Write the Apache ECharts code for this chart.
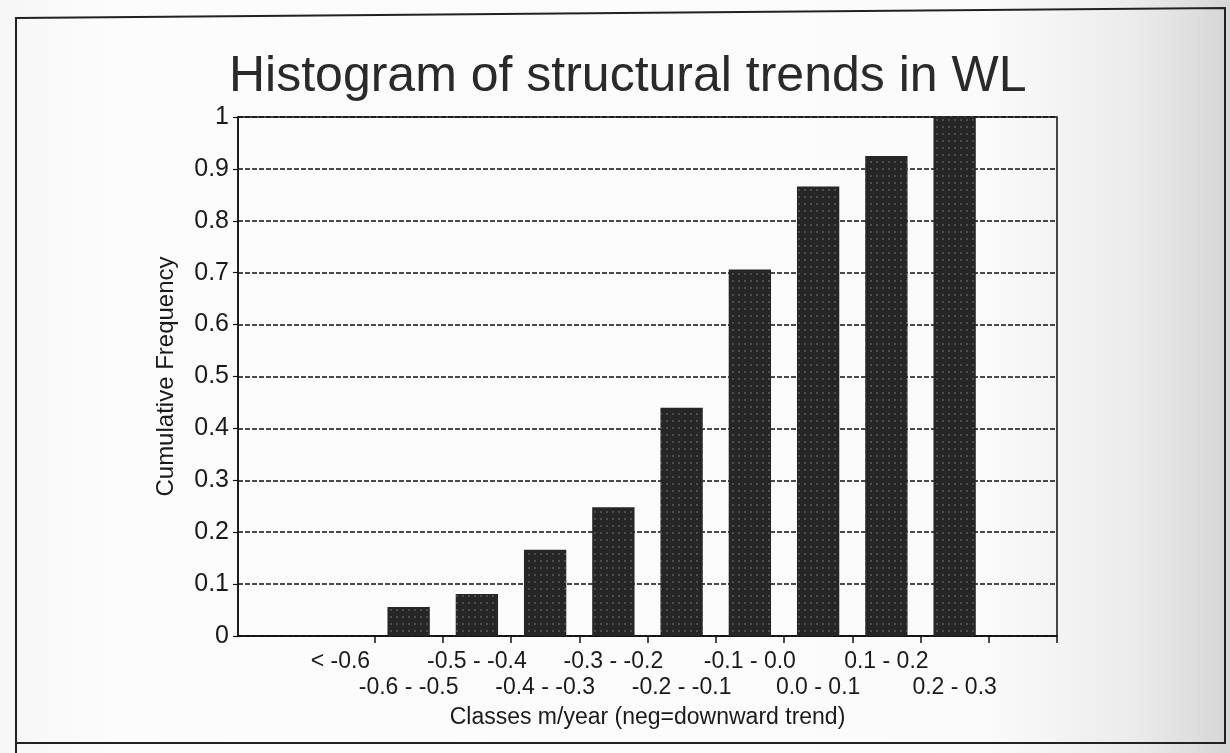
<!DOCTYPE html>
<html>
<head>
<meta charset="utf-8">
<script src="https://cdn.jsdelivr.net/npm/echarts@6/dist/echarts.min.js"></script>
<style>
html,body{margin:0;padding:0;background:#fff;}
#chart{width:1230px;height:753px;}
</style>
</head>
<body>
<div id="chart"></div>
<script>
// Categories (empty slots at both ends as in the original axis)
const categories = ["", "< -0.6", "-0.6 - -0.5", "-0.5 - -0.4", "-0.4 - -0.3", "-0.3 - -0.2",
  "-0.2 - -0.1", "-0.1 - 0.0", "0.0 - 0.1", "0.1 - 0.2", "0.2 - 0.3", ""];
const cumulativeFrequency = [null, 0, 0.056, 0.081, 0.166, 0.248, 0.44, 0.706, 0.866, 0.925, 1.0, null];
const yTicks = [0, 0.1, 0.2, 0.3, 0.4, 0.5, 0.6, 0.7, 0.8, 0.9, 1];

const FONT = '"Liberation Sans", Arial, Helvetica, sans-serif';
const chart = echarts.init(document.getElementById('chart'));
chart.setOption({
  animation: false,
  backgroundColor: {
    type: 'linear', x: 0, y: 0, x2: 1, y2: 0,
    colorStops: [
      {offset: 0, color: '#f7f7f7'},
      {offset: 0.1, color: '#fcfcfc'},
      {offset: 0.8, color: '#fbfbfb'},
      {offset: 0.92, color: '#ececec'},
      {offset: 1, color: '#d6d6d6'}
    ]
  },
  graphic: [{
    type: 'polyline',
    shape: {points: [[16, 760], [16, 18], [1225, 8], [1225, 743], [16, 743]]},
    style: {stroke: '#222', lineWidth: 2, fill: null}
  }],
  title: {
    text: 'Histogram of structural trends in WL',
    left: 224,
    top: 47,
    textStyle: {fontFamily: FONT, fontSize: 50, fontWeight: 'normal', color: '#2a2a2a'}
  },
  grid: {
    left: 238, right: 173, top: 117, bottom: 117,
    show: true, borderColor: '#111', borderWidth: 1.5, backgroundColor: 'transparent'
  },
  xAxis: {
    type: 'category',
    data: categories,
    boundaryGap: true,
    name: 'Classes m/year (neg=downward trend)',
    nameLocation: 'middle',
    nameGap: 68,
    nameTextStyle: {fontFamily: FONT, fontSize: 23, color: '#1a1a1a'},
    axisLine: {lineStyle: {color: '#111', width: 1.5}},
    axisTick: {show: true, length: 7, interval: (i) => i >= 2, lineStyle: {color: '#111', width: 1.5}},
    axisLabel: {
      interval: 0,
      fontFamily: FONT, fontSize: 23, color: '#1a1a1a',
      lineHeight: 26, margin: 13,
      formatter: (v, i) => (i % 2 === 1 ? v : '\n' + v)
    },
    splitLine: {show: false}
  },
  yAxis: {
    type: 'value',
    min: 0, max: 1, interval: 0.1,
    name: 'Cumulative Frequency',
    nameLocation: 'middle',
    nameGap: 60,
    nameTextStyle: {fontFamily: FONT, fontSize: 24, color: '#1a1a1a'},
    axisLine: {show: true, lineStyle: {color: '#111', width: 1.5}},
    axisTick: {show: true, length: 5, lineStyle: {color: '#111', width: 1.2}},
    axisLabel: {
      fontFamily: FONT, fontSize: 25, color: '#1a1a1a', margin: 9,
      formatter: (v) => {
        const t = yTicks.find(y => Math.abs(y - v) < 1e-9);
        return t === undefined ? '' : String(Number(t.toFixed(1)));
      }
    },
    splitLine: {show: true, lineStyle: {color: '#111', width: 1.5, type: [5, 2]}}
  },
  series: [{
    type: 'bar',
    data: cumulativeFrequency,
    barWidth: '62%',
    itemStyle: {
      color: '#262626',
      decal: {
        symbol: 'rect',
        symbolSize: 0.6,
        color: 'rgba(225,225,225,0.7)',
        dashArrayX: [2, 4],
        dashArrayY: [2, 5],
        rotation: 0
      }
    }
  }]
});
</script>
</body>
</html>
